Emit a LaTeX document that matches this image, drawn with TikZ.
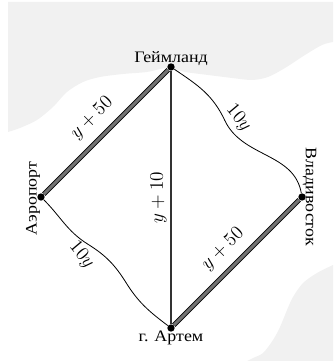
\documentclass[tikz,border=0pt]{standalone}
\usepackage{fontspec}
\newfontfamily\cyrfont[FakeStretch=1.12]{Liberation Serif}
\usepackage{tikz}
\usetikzlibrary{calc,positioning}
\definecolor{bggray}{RGB}{241,241,241}

\begin{document}
\begin{tikzpicture}[
    x=0.625pt, y=0.625pt,
    city/.style={circle, fill=black, inner sep=0pt, minimum size=4.6pt},
    cityname/.style={font=\cyrfont\fontsize{10}{12}\selectfont, inner sep=0pt},
    road/.style={draw=black, line width=0.6pt, double=black!55, double distance=1.8pt},
    highway/.style={draw=black!80, line width=1.5pt},
    wavy/.style={draw=black, line width=0.5pt},
    cost/.style={font=\large, inner sep=2pt},
    ]

% ---- background ----
\useasboundingbox (0,0) rectangle (335,361);
\fill[bggray] (8,359) -- plot[smooth] coordinates {(8,229) (20,233) (37,241) (53,254)
    (67,269) (83,279) (100,284) (123,287) (147,289) (167,293) (185,289) (208,286)
    (232,283) (252,281) (268,284) (285,293) (305,306) (322,316) (333,319)} -- (333,359) -- cycle;
\fill[bggray] plot[smooth] coordinates {(333,96) (317,88) (303,78) (293,64) (287,51)
    (280,34) (273,21) (263,8) (253,3) (247,0)} -- (333,0) -- cycle;

% ---- cities ----
\node[city] (geim) at (171,294) {};
\node[city] (aero) at (41,164) {};
\node[city] (vlad) at (302,164) {};
\node[city] (artem) at (171,33) {};

\node[cityname, anchor=base] (geimname) at ([yshift=2.5pt]geim.center) {Геймланд};
\node[cityname, anchor=base, rotate=90] (aeroname) at ([xshift=-2.8pt, yshift=-1pt]aero.center) {Аэропорт};
\node[cityname, anchor=base, rotate=-90] (vladname) at ([xshift=2.4pt]vlad.center) {Владивосток};
\node[cityname, anchor=base] (artemname) at ([yshift=-8.7pt]artem.center) {г. Артем};

% ---- roads ----
\draw[road] (aero) -- node[cost, sloped, above=5pt] {$y+50$} (geim);
\draw[road] (artem) -- node[cost, sloped, above=4.5pt] {$y+50$} (vlad);
\draw[highway] (artem) -- node[cost, sloped, above] {$y+10$} (geim);
% winding roads
\draw[wavy] (geim) to[out=-34, in=115] ($(geim)!0.41!(vlad)$)
      to[out=-65, in=100] node[cost, inner sep=3pt, pos=0.06, rotate=-50, anchor=south] {$10y$} (vlad);
\draw[wavy] (aero) to[out=-45, in=148] ($(aero)!0.36!(artem)$)
      to[out=-32, in=122] node[cost, inner sep=3pt, pos=0.07, rotate=-50, anchor=north] {$10y$} ($(aero)!0.655!(artem)$)
      to[out=-58, in=143] (artem);
\end{tikzpicture}
\end{document}
